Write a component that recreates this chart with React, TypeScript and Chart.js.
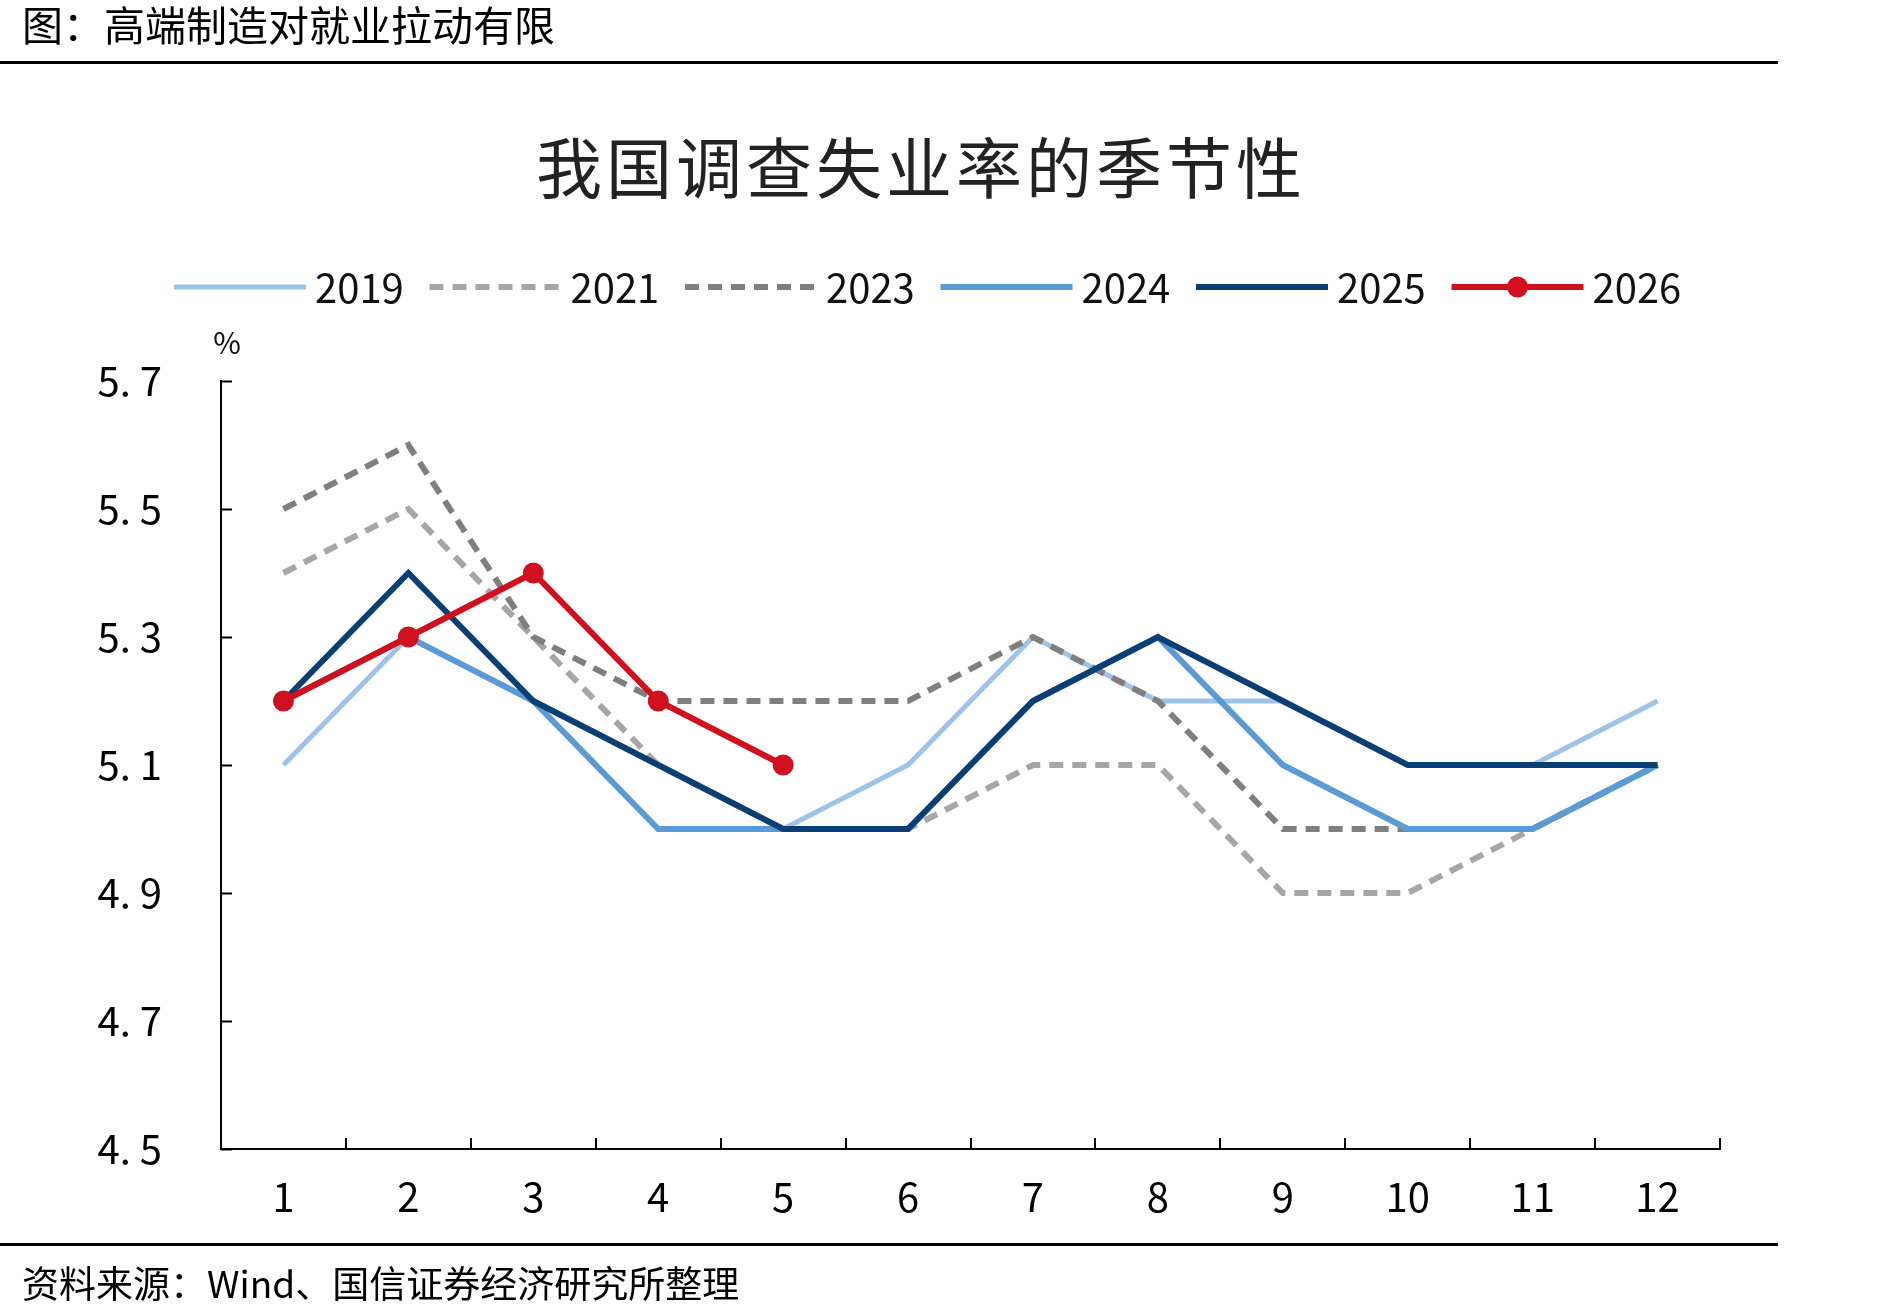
import { useEffect, useRef } from 'react';
import { Chart, registerables } from 'chart.js';

Chart.register(...registerables);

// ---- data ----
const months = ['1', '2', '3', '4', '5', '6', '7', '8', '9', '10', '11', '12'];
const years = ['2019', '2021', '2023', '2024', '2025', '2026'];
const rate2019 = [5.1, 5.3, 5.2, 5.0, 5.0, 5.1, 5.3, 5.2, 5.2, 5.1, 5.1, 5.2];
const rate2021 = [5.4, 5.5, 5.3, 5.1, 5.0, 5.0, 5.1, 5.1, 4.9, 4.9, 5.0, 5.1];
const rate2023 = [5.5, 5.6, 5.3, 5.2, 5.2, 5.2, 5.3, 5.2, 5.0, 5.0, 5.0, 5.1];
const rate2024 = [5.2, 5.3, 5.2, 5.0, 5.0, 5.0, 5.2, 5.3, 5.1, 5.0, 5.0, 5.1];
const rate2025 = [5.2, 5.4, 5.2, 5.1, 5.0, 5.0, 5.2, 5.3, 5.2, 5.1, 5.1, 5.1];
const rate2026 = [5.2, 5.3, 5.4, 5.2, 5.1];
const yTicks = [4.5, 4.7, 4.9, 5.1, 5.3, 5.5, 5.7];

const headerText = '图：高端制造对就业拉动有限';
const titleText = '我国调查失业率的季节性';
const unitText = '%';
const sourceText = '资料来源：Wind、国信证券经济研究所整理';

// ---- styles ----
const seriesValues = [rate2019, rate2021, rate2023, rate2024, rate2025, rate2026];
const seriesColors = ['#9DC3E6', '#A6A6A6', '#7F7F7F', '#5B9BD5', '#0B3F73', '#D0101F'];
const seriesWidths = [5, 6, 6, 6, 6, 6];
const seriesDashes: number[][] = [[], [14, 9], [14, 9], [], [], []];
const seriesPoints = [0, 0, 0, 0, 0, 10.5];

const FONT = '"Noto Sans CJK SC", "Noto Sans", sans-serif';
const W = 1877;
const H = 1315;
const AREA_LEFT = 221;
const AREA_RIGHT = 1720;
const AREA_TOP = 381;
const AREA_BOTTOM = 1149;
const X_AXIS_H = 100;

const decorPlugin = {
  id: 'decor',
  afterDraw(chart: any) {
    const ctx: CanvasRenderingContext2D = chart.ctx;
    const area = chart.chartArea;
    ctx.save();

    // header and rules
    ctx.fillStyle = '#000';
    ctx.textAlign = 'left';
    ctx.textBaseline = 'middle';
    ctx.font = `41px ${FONT}`;
    ctx.fillText(headerText, 22, 25);
    ctx.fillRect(0, 61, 1778, 3);
    ctx.fillRect(0, 1243, 1778, 3);
    ctx.font = `37px ${FONT}`;
    ctx.fillText(sourceText, 22, 1284);

    // chart title
    ctx.fillStyle = '#222';
    ctx.font = `66px ${FONT}`;
    ctx.textAlign = 'center';
    (ctx as any).letterSpacing = '4px';
    ctx.fillText(titleText, 921, 168);
    (ctx as any).letterSpacing = '0px';

    // legend
    const legendY = 287;
    const startX = 174;
    const pitch = 255.5;
    const sampleLen = 132;
    ctx.font = `40px ${FONT}`;
    ctx.textAlign = 'left';
    years.forEach((label, i) => {
      const x0 = startX + i * pitch;
      ctx.save();
      ctx.strokeStyle = seriesColors[i];
      ctx.lineWidth = seriesWidths[i];
      ctx.setLineDash(seriesDashes[i]);
      ctx.lineCap = 'butt';
      ctx.beginPath();
      ctx.moveTo(x0, legendY);
      ctx.lineTo(x0 + sampleLen, legendY);
      ctx.stroke();
      if (seriesPoints[i] > 0) {
        ctx.fillStyle = seriesColors[i];
        ctx.beginPath();
        ctx.arc(x0 + sampleLen / 2, legendY, seriesPoints[i], 0, Math.PI * 2);
        ctx.fill();
      }
      ctx.restore();
      ctx.fillStyle = '#111';
      ctx.fillText(label, x0 + sampleLen + 9, legendY + 1);
    });

    // unit label
    ctx.font = `30px ${FONT}`;
    ctx.textAlign = 'center';
    ctx.fillText(unitText, 227, 343);

    // inward tick marks
    ctx.strokeStyle = '#000';
    ctx.lineWidth = 2;
    ctx.setLineDash([]);
    const ys = chart.scales.y;
    yTicks.forEach((v) => {
      const y = Math.round(ys.getPixelForValue(v)) + 0.5;
      ctx.beginPath();
      ctx.moveTo(area.left, y);
      ctx.lineTo(area.left + 11, y);
      ctx.stroke();
    });
    const xs = chart.scales.x;
    const step = xs.getPixelForValue(1) - xs.getPixelForValue(0);
    months.forEach((_, i) => {
      const x = Math.round(xs.getPixelForValue(i) + step / 2);
      ctx.beginPath();
      ctx.moveTo(x, area.bottom);
      ctx.lineTo(x, area.bottom - 11);
      ctx.stroke();
    });

    ctx.restore();
  },
};

export default function App() {
  const canvasRef = useRef<HTMLCanvasElement>(null);

  useEffect(() => {
    const canvas = canvasRef.current;
    if (!canvas) return;
    const chart = new Chart(canvas, {
      type: 'line',
      data: {
        labels: months,
        datasets: years.map((label, i) => ({
          label,
          data: seriesValues[i],
          borderColor: seriesColors[i],
          backgroundColor: seriesColors[i],
          borderWidth: seriesWidths[i],
          borderDash: seriesDashes[i],
          borderCapStyle: 'butt' as const,
          borderJoinStyle: 'miter' as const,
          pointRadius: seriesPoints[i],
          pointHoverRadius: seriesPoints[i],
          pointBackgroundColor: seriesColors[i],
          pointBorderWidth: 0,
          tension: 0,
          fill: false,
          order: years.length - i,
        })),
      },
      options: {
        animation: false,
        responsive: false,
        devicePixelRatio: 1,
        layout: {
          padding: {
            left: 0,
            right: W - AREA_RIGHT,
            top: AREA_TOP,
            bottom: H - AREA_BOTTOM - X_AXIS_H,
          },
        },
        plugins: {
          legend: { display: false },
          title: { display: false },
          tooltip: { enabled: false },
        },
        scales: {
          x: {
            type: 'category',
            offset: true,
            grid: { display: true, drawOnChartArea: false, drawTicks: false, offset: true },
            border: { display: true, color: '#000', width: 2 },
            ticks: {
              color: '#000',
              padding: 24,
              maxRotation: 0,
              autoSkip: false,
              font: { family: FONT, size: 40 },
            },
            afterFit: (scale: any) => {
              scale.height = X_AXIS_H;
              scale.paddingLeft = 0;
              scale.paddingRight = 0;
            },
          },
          y: {
            type: 'linear',
            min: 4.5,
            max: 5.7,
            grid: { display: true, drawOnChartArea: false, drawTicks: false },
            border: { display: true, color: '#000', width: 2 },
            afterBuildTicks: (scale: any) => {
              scale.ticks = yTicks.map((value) => ({ value }));
            },
            ticks: {
              color: '#000',
              padding: 59,
              font: { family: FONT, size: 40 },
              callback: (v: any) => Number(v).toFixed(1).replace('.', '. '),
            },
            afterFit: (scale: any) => {
              scale.width = AREA_LEFT;
              scale.paddingTop = 0;
              scale.paddingBottom = 0;
            },
          },
        },
      },
      plugins: [decorPlugin],
    });
    return () => chart.destroy();
  }, []);

  return (
    <div style={{ position: 'absolute', left: 0, top: 0, width: W, height: H, background: '#fff' }}>
      <canvas ref={canvasRef} width={W} height={H} style={{ display: 'block' }} />
    </div>
  );
}
